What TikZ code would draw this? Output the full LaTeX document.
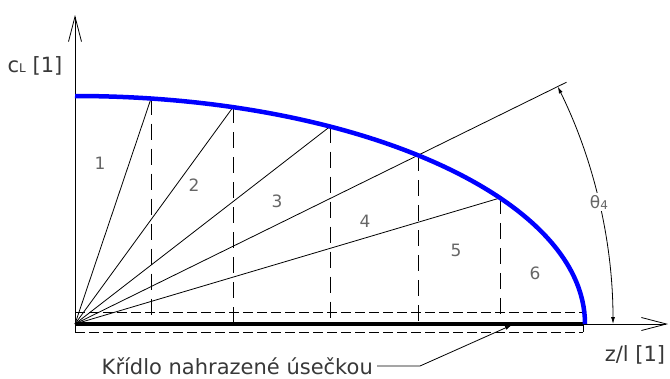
\documentclass[tikz,border=0pt]{standalone}
\usepackage{fontspec}
\setmainfont{DejaVu Sans}
\usetikzlibrary{arrows.meta,calc}
\definecolor{txtc}{gray}{0.22}
\definecolor{numc}{gray}{0.40}
\definecolor{curveblue}{RGB}{0,0,255}
\tikzset{
  thinline/.style={line width=0.8pt,black},
  dashvert/.style={line width=0.9pt,black,dash pattern=on 16pt off 9pt},
  dashhor/.style={line width=0.9pt,black,dash pattern=on 10pt off 4pt},
  axisarrow/.style={line width=0.8pt,-{Straight Barb[length=25pt,width=13pt,line width=0.8pt]}},
  numlabel/.style={text=numc,font=\fontsize{17}{17}\selectfont,inner sep=0pt},
  biglabel/.style={text=txtc,font=\fontsize{21}{21}\selectfont,inner sep=0pt},
  wing/.style={line width=4pt,black},
  cl/.style={line width=4.5pt,curveblue},
  dimarrow/.style={line width=0.8pt,{Latex[length=7pt,width=4pt]}-{Latex[length=7pt,width=4pt]}},
}
\begin{document}
\begin{tikzpicture}[x=1pt,y=-1pt]
\useasboundingbox (0,0) rectangle (670,378);
% key points
\coordinate (O) at (75,324);
\coordinate (Ybot) at (75,332);
\coordinate (Ytop) at (75,15);
\coordinate (Xend) at (668,324);
\coordinate (C0) at (75,96);
\coordinate (P1) at (151,98.55);
\coordinate (P2) at (233,107.22);
\coordinate (P3) at (330,126.55);
\coordinate (P4) at (418,155.27);
\coordinate (P5) at (500,197.97);
\coordinate (B1) at (151,324);
\coordinate (B2) at (233,324);
\coordinate (B3) at (330,324);
\coordinate (B4) at (418,324);
\coordinate (B5) at (500,324);
\coordinate (E4) at ($(O)!1.433!(P4)$);
\coordinate (W) at (583,324);
\coordinate (RT) at (583,312);
\coordinate (RB) at (583,332);
\coordinate (LT) at (75,312);
\coordinate (LB) at (75,332);
\coordinate (T) at (512,325);
\coordinate (K) at (420,366);
\coordinate (A0) at (613,324);

% dashed rectangle around wing
\draw[dashhor] (LT) -- (RT);
\draw[dashhor] (LB) -- (RB);
\draw[thinline] (RT) -- (RB);

% dashed verticals
\foreach \i in {1,...,5} \draw[dashvert] (P\i) -- (B\i);

% rays from origin
\draw[thinline] (O) -- (P1);
\draw[thinline] (O) -- (P2);
\draw[thinline] (O) -- (P3);
\draw[thinline] (O) -- (E4);
\draw[thinline] (O) -- (P5);

% axes
\draw[axisarrow] (Ybot) -- (Ytop);
\draw[axisarrow] (O) -- (Xend);

% wing
\draw[wing] (O) -- (W);

% lift curve
\draw[cl] (C0) arc[start angle=-90,end angle=0,x radius=510,y radius=228];

% angle theta4
\draw[dimarrow] (A0) arc[start angle=0,end angle=-26.2,radius=538];
\node[numlabel,fill=white,inner sep=2pt] (th) at (599,202) {θ\raisebox{-1pt}{\fontsize{12}{12}\selectfont 4}};

% numbers
\node[numlabel] (n1) at (100,163) {1};
\node[numlabel] (n2) at (194,185) {2};
\node[numlabel] (n3) at (277,201) {3};
\node[numlabel] (n4) at (365,221) {4};
\node[numlabel] (n5) at (456,250) {5};
\node[numlabel] (n6) at (535,273) {6};

% axis labels
\node[biglabel] (yl) at (35,66) {c{\fontsize{12}{12}\selectfont L} [1]};
\node[biglabel] (xl) at (635,355) {z/l [1]};

% caption with leader
\node[biglabel,anchor=east] (cap) at (373,366) {Křídlo nahrazené úsečkou};
\draw[thinline,-{Latex[length=7pt,width=4pt]}] ([xshift=4pt]cap.east |- K) -- (K) -- (T);
\end{tikzpicture}
\end{document}
